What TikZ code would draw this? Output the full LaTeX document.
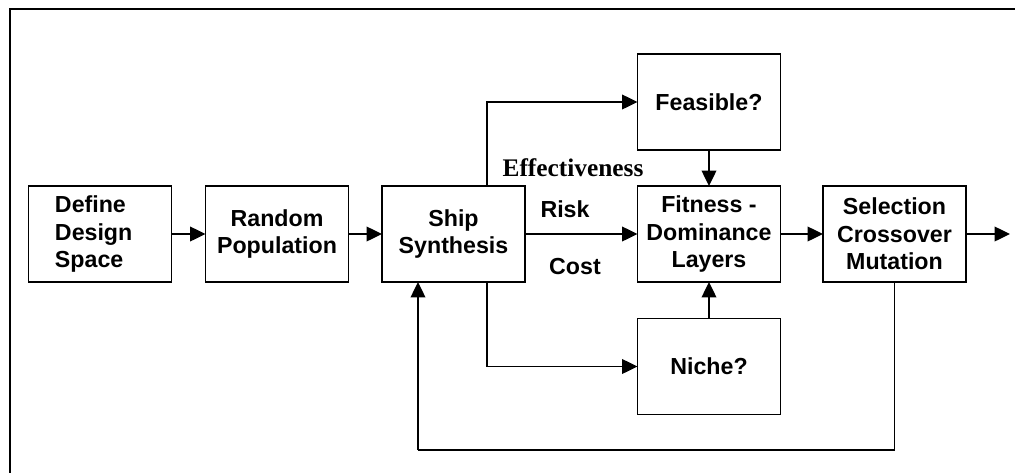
\documentclass[tikz,border=0pt]{standalone}
\usepackage{fontspec}
\setmainfont{Liberation Serif}
\setsansfont{Liberation Sans}
\usetikzlibrary{arrows.meta}
\begin{document}
\begin{tikzpicture}[x=0.75pt,y=-0.75pt,
  box/.style={draw, line width=1.3pt, minimum width=107.25pt, minimum height=72pt,
    inner sep=0pt, outer sep=0pt, align=center,
    font=\sffamily\bfseries\fontsize{17.4}{20.5}\selectfont},
  flow/.style={line width=1pt, -{Triangle[length=11.5pt,width=11pt]}},
  plain/.style={line width=1pt},
  tag/.style={font=\sffamily\bfseries\fontsize{17.4}{20.5}\selectfont, inner sep=0pt}]
\useasboundingbox (0,0) rectangle (1015,472);
% outer frame, running past the right and bottom edges
\draw[line width=2.2pt] (10,520) -- (10,9) -- (1060,9);

\node[box, align=left, text width=67.5pt] (define) at (100,234) {Define\\Design\\Space};
\node[box] (random) at (277,234) {Random\\Population};
\node[box] (ship) at (453.5,234) {Ship\\Synthesis};
\node[box] (feasible) at (709,102) {Feasible?};
\node[box] (fitness) at (709,234) {Fitness -\\Dominance\\Layers};
\node[box] (niche) at (709,366.5) {Niche?};
\node[box] (select) at (894.5,234) {Selection\\Crossover\\Mutation};

\coordinate (out) at (1010,234);
\coordinate (up) at (487,102);
\coordinate (down) at (487,366.5);
\coordinate (back1) at (894.5,450);
\coordinate (back2) at (418,450);

\draw[flow] (define) -- (random);
\draw[flow] (random) -- (ship);
\draw[flow] (ship) -- (fitness);
\draw[flow] (fitness) -- (select);
\draw[flow] (select) -- (out);
\draw[flow] (feasible) -- (fitness);
\draw[flow] (niche) -- (fitness);
\draw[flow] (ship.north -| up) -- (up) -- (feasible.west);
\draw[flow] (ship.south -| down) -- (down) -- (niche.west);
\draw[plain] (select.south) -- (back1) -- (back2);
\draw[flow] (back2) -- (ship.south -| back2);

\node[font=\rmfamily\bfseries\fontsize{19}{21}\selectfont, inner sep=0pt] (eff) at (573,168) {Effectiveness};
\node[tag] (risk) at (565,209) {Risk};
\node[tag] (cost) at (575,267) {Cost};
\end{tikzpicture}
\end{document}
